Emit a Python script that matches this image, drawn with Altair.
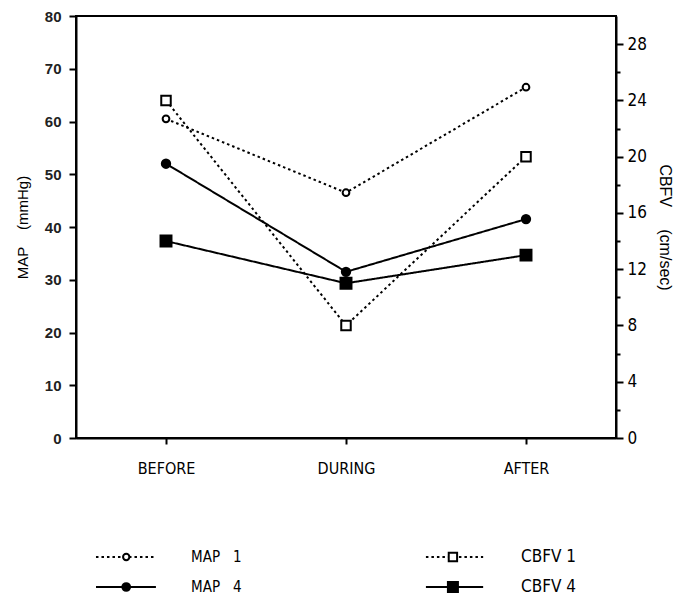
import altair as alt
import pandas as pd

# ---- data ----
periods = ["BEFORE", "DURING", "AFTER"]
map_1 = [60.5, 46.5, 66.5]
map_4 = [52, 31.5, 41.5]
cbfv_1 = [24, 8, 20]
cbfv_4 = [14, 11, 13]

NB = "\u00a0"
series_names = ["MAP 1", "MAP 4", "CBFV 1", "CBFV 4"]
legend_labels = ["MAP" + NB * 3 + "1", "MAP" + NB * 3 + "4", "CBFV" + NB + "1", "CBFV" + NB + "4"]
map_ticks = [0, 10, 20, 30, 40, 50, 60, 70, 80]
cbfv_ticks = [0, 2, 4, 6, 8, 10, 12, 14, 16, 18, 20, 22, 24, 26, 28]

# ---- build tables ----
rows = []
for name, vals, grp in [("MAP 1", map_1, "MAP"), ("MAP 4", map_4, "MAP"),
                        ("CBFV 1", cbfv_1, "CBFV"), ("CBFV 4", cbfv_4, "CBFV")]:
    for p, v in zip(periods, vals):
        rows.append({"period": p, "series": name, "value": v, "group": grp})
df = pd.DataFrame(rows)

NARROW = "DejaVu Sans Condensed, Liberation Sans, sans-serif"
SANS = "Liberation Sans, Arial, sans-serif"
W, H = 540, 422

x_enc = alt.X(
    "period:N", sort=periods,
    scale=alt.Scale(type="point", padding=0.5),
    axis=alt.Axis(title=None, labelAngle=0, tickSize=6, tickWidth=2, tickColor="black",
                  domainColor="black", domainWidth=2, labelPadding=16,
                  labelFont=NARROW, labelFontSize=16, labelColor="black", grid=False),
)

y_left = alt.Y(
    "value:Q", scale=alt.Scale(domain=[0, 80], nice=False),
    axis=alt.Axis(values=map_ticks, title="MAP" + NB * 4 + "(mmHg)", tickSize=7, tickWidth=2,
                  tickColor="black", domainColor="black", domainWidth=2, grid=False,
                  labelFont=SANS, labelFontSize=15, labelFontWeight="bold",
                  labelColor="#222222", labelPadding=8,
                  titleFont=SANS, titleFontSize=15, titleFontWeight="normal",
                  titleColor="black", titlePadding=14),
)

y_right = alt.Y(
    "value:Q", scale=alt.Scale(domain=[0, 30], nice=False),
    axis=alt.Axis(orient="right", values=cbfv_ticks, title="CBFV" + NB * 5 + "(cm/sec)",
                  labelExpr="datum.value % 4 == 0 ? datum.label : ''",
                  tickSize={"condition": {"test": "datum.value % 4 == 0", "value": 7}, "value": 4},
                  tickWidth=2, tickColor="black", domainColor="black", domainWidth=2, grid=False,
                  labelFont=NARROW, labelFontSize=17, labelColor="black", labelPadding=4,
                  titleFont=SANS, titleFontSize=16, titleFontWeight="normal",
                  titleColor="black", titlePadding=10),
)


def series_layers(name, y, dashed, shape, filled, size):
    base = alt.Chart(df).transform_filter(alt.datum.series == name)
    line = base.mark_line(color="black", strokeWidth=2,
                          strokeDash=[2.5, 3] if dashed else [1, 0]).encode(x=x_enc, y=y)
    pts = base.mark_point(shape=shape, filled=True, fill="black" if filled else "white",
                          stroke="black", strokeWidth=2, size=size, opacity=1).encode(x=x_enc, y=y)
    return [line, pts]


left = alt.layer(*(series_layers("MAP 1", y_left, True, "circle", False, 45)
                   + series_layers("MAP 4", y_left, False, "circle", True, 70)))
right = alt.layer(*(series_layers("CBFV 1", y_right, True, "square", False, 90)
                    + series_layers("CBFV 4", y_right, False, "square", True, 120)))

top = alt.layer(left, right).resolve_scale(y="independent").properties(
    width=W, height=H, view=alt.ViewBackground(stroke="black", strokeWidth=2)
)

# ---- custom legend below the plot ----
col_of = [0, 0, 1, 1]
row_of = [0, 1, 0, 1]
sample_start = [0.037, 0.648]
sample_end = [0.148, 0.754]
marker_pos = [0.093, 0.698]
label_pos = [0.213, 0.824]
label_size = [15, 17]
leg = pd.DataFrame({
    "series": series_names,
    "label": legend_labels,
    "row": row_of,
    "x0": [sample_start[c] for c in col_of],
    "x1": [sample_end[c] for c in col_of],
    "xm": [marker_pos[c] for c in col_of],
    "xl": [label_pos[c] for c in col_of],
    "fs": [label_size[c] for c in col_of],
})

lx = alt.Scale(domain=[0, 1])
ly = alt.Scale(domain=[-0.5, 1.5], reverse=True)
lbase = alt.Chart(leg)


def leg_layers(name, dashed, shape, filled, size):
    b = lbase.transform_filter(alt.datum.series == name)
    rule = b.mark_rule(color="black", strokeWidth=2,
                       strokeDash=[2.5, 3] if dashed else [1, 0]).encode(
        x=alt.X("x0:Q", scale=lx, axis=None), x2="x1:Q",
        y=alt.Y("row:Q", scale=ly, axis=None))
    pt = b.mark_point(shape=shape, filled=True, fill="black" if filled else "white",
                      stroke="black", strokeWidth=2, size=size, opacity=1).encode(
        x=alt.X("xm:Q", scale=lx, axis=None), y=alt.Y("row:Q", scale=ly, axis=None))
    return [rule, pt]


legend_text = lbase.mark_text(align="left", baseline="middle", font=NARROW, color="black").encode(
    x=alt.X("xl:Q", scale=lx, axis=None), y=alt.Y("row:Q", scale=ly, axis=None),
    text="label:N", size=alt.Size("fs:Q", scale=None, legend=None))

legend = alt.layer(*(leg_layers("MAP 1", True, "circle", False, 40)
                     + leg_layers("MAP 4", False, "circle", True, 60)
                     + leg_layers("CBFV 1", True, "square", False, 70)
                     + leg_layers("CBFV 4", False, "square", True, 100)),
                   legend_text).properties(width=W, height=60,
                                           view=alt.ViewBackground(stroke=None))

chart = alt.vconcat(top, legend, spacing=65).properties(
    padding={"left": 14, "top": 8, "right": 5, "bottom": 5}, background="white"
).configure_view(stroke=None)

chart.save("out.html", embed_options={"renderer": "svg", "actions": False})
